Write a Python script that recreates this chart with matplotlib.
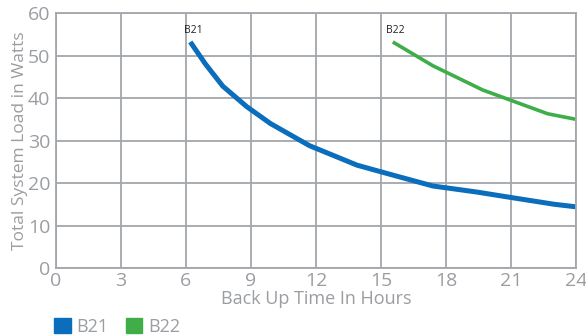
import matplotlib
matplotlib.use("Agg")
import matplotlib.pyplot as plt
from matplotlib.patches import Patch

plt.rcParams['font.family'] = ['Open Sans', 'DejaVu Sans']

# B21 curve
b21_hours = [6.2, 6.9, 7.7, 8.8, 9.9, 11.7, 13.9, 15.6, 17.4, 19.4, 21.0, 23.0, 24.0]
b21_watts = [53.2, 48.0, 42.8, 38.0, 34.0, 28.8, 24.2, 21.8, 19.3, 17.9, 16.6, 15.0, 14.4]
# B22 curve
b22_hours = [15.55, 17.4, 19.7, 22.7, 24.0]
b22_watts = [53.2, 47.6, 41.9, 36.3, 35.0]

blue = '#0a6ebd'
green = '#3fae49'
grid_c = '#a3a7ab'
text_c = '#9a9da1'

fig = plt.figure(figsize=(5.86, 3.35), dpi=100)
ax = fig.add_axes([0.0956, 0.2, 0.887, 0.761])

ax.plot(b21_hours, b21_watts, color=blue, lw=3.6, solid_capstyle='butt')
ax.plot(b22_hours, b22_watts, color=green, lw=2.6, solid_capstyle='butt')
ax.text(b21_hours[0] - 0.3, b21_watts[0] + 1.3, 'B21', fontsize=7.5, color='#222222', va='bottom')
ax.text(b22_hours[0] - 0.3, b22_watts[0] + 1.3, 'B22', fontsize=7.5, color='#222222', va='bottom')

ax.set_xlim(0, 24)
ax.set_ylim(0, 60)
ax.set_xticks(range(0, 25, 3))
ax.set_yticks(range(0, 61, 10))
ax.grid(True, color=grid_c, lw=1.3)
ax.set_axisbelow(True)
for s in ax.spines.values():
    s.set_color(grid_c)
    s.set_linewidth(1.3)
ax.tick_params(length=0, labelsize=14, labelcolor=text_c)
ax.tick_params(axis='x', pad=3)
ax.tick_params(axis='y', pad=4)
ax.set_xlabel('Back Up Time In Hours', fontsize=13, color=text_c, labelpad=0)
ax.set_ylabel('Total System Load in Watts', fontsize=12.5, color=text_c, labelpad=0)

handles = [Patch(color=blue, label='B21'), Patch(color=green, label='B22')]
leg = fig.legend(handles=handles, loc='lower left', bbox_to_anchor=(0.065, -0.05), ncol=2,
                 frameon=False, fontsize=13, handlelength=0.9, handleheight=0.9,
                 handletextpad=0.3, columnspacing=1.0)
for t in leg.get_texts():
    t.set_color(text_c)

fig.savefig('out.png', dpi=100)
